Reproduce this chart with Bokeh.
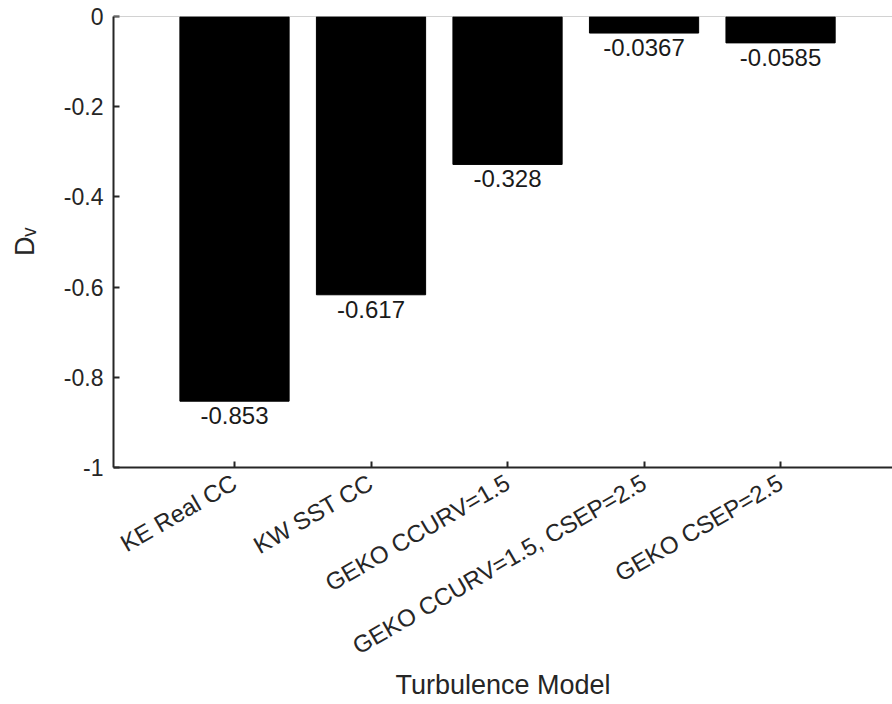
import math
from bokeh.plotting import figure
from bokeh.models import ColumnDataSource, FixedTicker, Span, Range1d
from bokeh.embed import file_html
from bokeh.resources import INLINE
from bokeh.core.properties import value

models = ["KE Real CC", "KW SST CC", "GEKO CCURV=1.5", "GEKO CCURV=1.5, CSEP=2.5", "GEKO CSEP=2.5"]
dv_values = [-0.853, -0.617, -0.328, -0.0367, -0.0585]
value_labels = ["-0.853", "-0.617", "-0.328", "-0.0367", "-0.0585"]
y_ticks = [-1, -0.8, -0.6, -0.4, -0.2, 0]
y_tick_labels = ["-1", "-0.8", "-0.6", "-0.4", "-0.2", "0"]

positions = list(range(1, len(models) + 1))
FONT = "Liberation Sans"
DARK = "#262626"

src = ColumnDataSource(dict(x=positions, v=dv_values, lab=value_labels, zero=[0] * len(models)))

p = figure(width=892, height=704, output_backend="svg", toolbar_location=None,
           x_range=Range1d(0.1136, 5.82), y_range=Range1d(-1, 0),
           min_border_left=113, min_border_right=0, min_border_top=16, min_border_bottom=237)
p.outline_line_color = None
p.grid.visible = False
p.background_fill_color = "white"

p.vbar(x="x", width=0.8, top="zero", bottom="v", source=src, fill_color="black", line_color="black")
p.add_layout(Span(location=0, dimension="width", line_color="#a6a6a6", line_width=1))

p.text(x="x", y="v", text="lab", source=src, text_align="center", text_baseline="top",
       y_offset=6, text_font=value(FONT), text_font_size="24px", text_color="#1a1a1a")

# x axis
xa = p.xaxis[0]
xa.ticker = FixedTicker(ticks=positions)
xa.major_label_overrides = {i: m for i, m in zip(positions, models)}
xa.major_label_orientation = math.radians(30)
xa.minor_tick_line_color = None
xa.major_tick_in = 6
xa.major_tick_out = 0
xa.axis_line_color = DARK
xa.axis_line_width = 2
xa.major_tick_line_color = DARK
xa.major_tick_line_width = 2
xa.major_label_text_font = FONT
xa.major_label_text_font_size = "24px"
xa.major_label_text_color = DARK
xa.major_label_standoff = 13
xa.axis_label = "Turbulence Model"
xa.axis_label_text_font = FONT
xa.axis_label_text_font_size = "27px"
xa.axis_label_text_font_style = "normal"
xa.axis_label_text_color = DARK
xa.axis_label_standoff = -4

# y axis
ya = p.yaxis[0]
ya.ticker = FixedTicker(ticks=y_ticks)
ya.major_label_overrides = {t: l for t, l in zip(y_ticks, y_tick_labels)}
ya.minor_tick_line_color = None
ya.major_tick_in = 6
ya.major_tick_out = 0
ya.axis_line_color = DARK
ya.axis_line_width = 2
ya.major_tick_line_color = DARK
ya.major_tick_line_width = 2
ya.major_label_text_font = FONT
ya.major_label_text_font_size = "23px"
ya.major_label_text_color = DARK
ya.major_label_standoff = 10
ya.axis_label = "D\u1d65"
ya.axis_label_text_font = FONT
ya.axis_label_text_font_size = "27px"
ya.axis_label_text_font_style = "normal"
ya.axis_label_text_color = DARK
ya.axis_label_standoff = 21

open("out.html", "w").write(file_html(p, INLINE))
